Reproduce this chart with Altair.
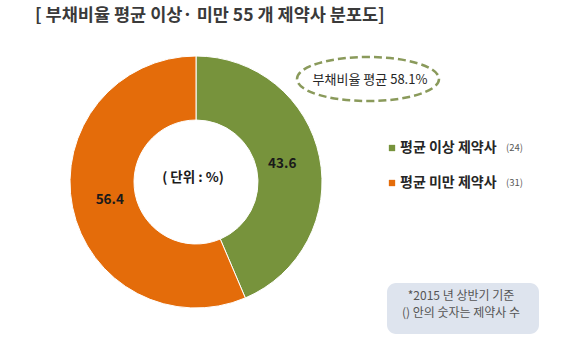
import altair as alt
import pandas as pd

# ---- data ----
categories = ["평균 이상 제약사", "평균 미만 제약사"]
shares = [43.6, 56.4]
counts = [24, 31]
order_idx = [0, 1]
colors = ["#77933C", "#E46C0A"]

title_text = "[ 부채비율 평균 이상· 미만 55 개 제약사 분포도]"
avg_text = "부채비율 평균 58.1%"
unit_text = "( 단위 : %)"
note_lines = ["*2015 년 상반기 기준", "() 안의 숫자는 제약사 수"]

FONT = "Noto Sans CJK KR"

df = pd.DataFrame({
    "cat": categories,
    "share": shares,
    "count": [f"({c})" for c in counts],
    "idx": order_idx,
    "label": [f"{s:.1f}" for s in shares],
})

CX, CY = 196, 182
color_scale = alt.Scale(domain=categories, range=colors)

base = alt.Chart(df)

donut = base.mark_arc(radius=126, radius2=62, stroke="white", strokeWidth=1).encode(
    theta=alt.Theta("share:Q", stack=True),
    color=alt.Color("cat:N", scale=color_scale, legend=None),
    order=alt.Order("idx:Q"),
    x=alt.value(CX),
    y=alt.value(CY),
)

labels = base.mark_text(radius=88, font=FONT, fontSize=13.5, fontWeight="bold", color="#1a1a1a").encode(
    theta=alt.Theta("share:Q", stack=True),
    order=alt.Order("idx:Q"),
    text="label:N",
    x=alt.value(CX),
    y=alt.value(CY),
)

def text_layer(t, x, y, size, weight="normal", color="#333333", align="center"):
    return alt.Chart(pd.DataFrame({"t": [t]})).mark_text(
        font=FONT, fontSize=size, fontWeight=weight, color=color, align=align, baseline="middle"
    ).encode(text="t:N", x=alt.value(x), y=alt.value(y))

title = text_layer(title_text, 35, 16, 17.5, "bold", "#3a3a3a", "left")
unit = text_layer(unit_text, 193, 178, 13.5, "bold", "#1a1a1a")

# dashed ellipse around average text
k = 0.31
c = 0.5523
kc = round(k * c, 4)
ellipse_path = (
    f"M -1 0 C -1 {-kc} {-c} {-k} 0 {-k} "
    f"C {c} {-k} 1 {-kc} 1 0 "
    f"C 1 {kc} {c} {k} 0 {k} "
    f"C {-c} {k} -1 {kc} -1 0 Z"
)
ellipse = alt.Chart(pd.DataFrame({"a": [0]})).mark_point(
    shape=ellipse_path, size=142 * 142, filled=False, stroke="#8A9A5B",
    strokeWidth=2.5, strokeDash=[8, 4], opacity=1
).encode(x=alt.value(368), y=alt.value(79))
avg = text_layer(avg_text, 370, 80, 13, "normal", "#262626")

# custom legend
ysc = alt.Scale(type="point", domain=categories, range=[148, 183], padding=0)
leg_sq = base.mark_square(size=40, opacity=1).encode(
    x=alt.value(392),
    y=alt.Y("cat:N", scale=ysc, axis=None),
    color=alt.Color("cat:N", scale=color_scale, legend=None),
)
leg_txt = base.mark_text(font=FONT, fontSize=14, fontWeight="bold", align="left", color="#262626").encode(
    x=alt.value(400),
    y=alt.Y("cat:N", scale=ysc, axis=None),
    text="cat:N",
)
leg_cnt = base.mark_text(font=FONT, fontSize=9.5, align="left", color="#595959").encode(
    x=alt.value(506),
    y=alt.Y("cat:N", scale=ysc, axis=None),
    text="count:N",
)

# note box
note_box = alt.Chart(pd.DataFrame({"a": [0]})).mark_rect(
    fill="#DEE4EE", cornerRadius=9
).encode(x=alt.value(387), x2=alt.value(539), y=alt.value(283), y2=alt.value(334))
note1 = text_layer(note_lines[0], 461, 296, 12, "normal", "#555555")
note2 = text_layer(note_lines[1], 461, 313, 12, "normal", "#555555")

chart = alt.layer(
    donut, labels, unit, title, ellipse, avg, leg_sq, leg_txt, leg_cnt, note_box, note1, note2
).properties(
    width=580, height=348, autosize=alt.AutoSizeParams(type="none"), padding=0,
    background="white"
).configure_view(stroke=None)

chart.save("out.html", embed_options={"renderer": "svg", "actions": False})
